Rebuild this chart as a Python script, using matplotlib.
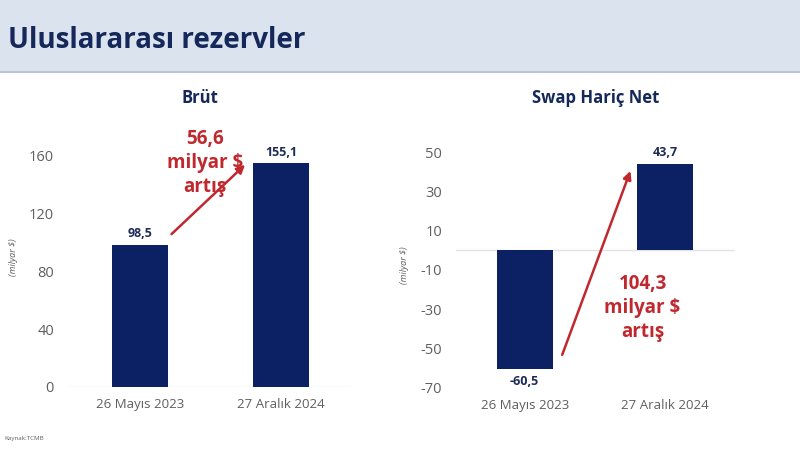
import matplotlib.pyplot as plt
from matplotlib.patches import Rectangle

plt.rcParams['font.family'] = ['Open Sans', 'DejaVu Sans']
plt.rcParams['axes.unicode_minus'] = False

# Data
dates = ['26 Mayıs 2023', '27 Aralık 2024']
brut = [98.5, 155.1]
net = [-60.5, 43.7]
brut_labels = ['98,5', '155,1']
net_labels = ['-60,5', '43,7']
brut_ticks = [0, 40, 80, 120, 160]
net_ticks = [-70, -50, -30, -10, 10, 30, 50]

navy = '#0c2163'
red = '#c0282d'
gray = '#5f5f5f'

fig = plt.figure(figsize=(8, 4.5), dpi=100)

# header band
fig.patches.append(Rectangle((0, 0.84), 1, 0.16, transform=fig.transFigure,
                             facecolor='#dbe3ef', edgecolor='none', zorder=0))
fig.patches.append(Rectangle((0, 0.838), 1, 0.004, transform=fig.transFigure,
                             facecolor='#b9c4d6', edgecolor='none', zorder=0))
fig.text(0.01, 0.91, 'Uluslararası rezervler', fontsize=20, fontweight='bold',
         color='#14285a', va='center', ha='left')
fig.text(0.005, 0.022, 'Kaynak:TCMB', fontsize=4.5, color=gray)


def style(ax, ticks):
    for s in ax.spines.values():
        s.set_visible(False)
    ax.set_yticks(ticks)
    ax.tick_params(length=0, labelcolor=gray)
    ax.tick_params(axis='y', pad=10, labelsize=10.5)
    ax.tick_params(axis='x', pad=8, labelsize=9.5)
    ax.axhline(0, color='#e3e3e3', lw=1, zorder=1)
    ax.set_xticks(range(len(dates)))
    ax.set_xticklabels(dates)
    ax.set_ylabel('(milyar $)', fontsize=6.5, style='italic', color=gray, labelpad=8)


# left chart
ax1 = fig.add_axes([0.085, 0.14, 0.3525, 0.578])
ax1.bar(range(len(dates)), brut, width=0.4, color=navy, zorder=2)
ax1.set_xlim(-0.51, 1.49)
ax1.set_ylim(0, 180)
style(ax1, brut_ticks)
for i, v in enumerate(brut):
    ax1.text(i, v + 3, brut_labels[i], ha='center', va='bottom', fontsize=9,
             fontweight='bold', color='#1d2b55')
ax1.annotate('', xy=(0.76, brut[1]), xytext=(0.21, brut[0] + 6),
             arrowprops=dict(arrowstyle='-|>', color=red, lw=1.8, mutation_scale=12))
ax1.text(0.46, 155, '56,6\nmilyar $\nartış', ha='center', va='center', fontsize=13.5,
         fontweight='bold', color=red, linespacing=1.28)
fig.text(0.25, 0.782, 'Brüt', ha='center', va='center', fontsize=12,
         fontweight='bold', color='#14285a')

# right chart
ax2 = fig.add_axes([0.57, 0.138, 0.349, 0.546])
ax2.bar(range(len(dates)), net, width=0.4, color=navy, zorder=2)
ax2.set_xlim(-0.49, 1.5)
ax2.set_ylim(-70, 55)
style(ax2, net_ticks)
for i, v in enumerate(net):
    if v < 0:
        ax2.text(i, v - 3, net_labels[i], ha='center', va='top', fontsize=9,
                 fontweight='bold', color='#1d2b55')
    else:
        ax2.text(i, v + 3, net_labels[i], ha='center', va='bottom', fontsize=9,
                 fontweight='bold', color='#1d2b55')
ax2.annotate('', xy=(0.76, net[1] - 2), xytext=(0.26, net[0] + 6),
             arrowprops=dict(arrowstyle='-|>', color=red, lw=1.8, mutation_scale=12))
ax2.text(0.84, -29.5, '104,3\nmilyar $\nartış', ha='center', va='center', fontsize=13.5,
         fontweight='bold', color=red, linespacing=1.28)
fig.text(0.745, 0.782, 'Swap Hariç Net', ha='center', va='center', fontsize=12,
         fontweight='bold', color='#14285a')

fig.savefig('out.png', dpi=100)
